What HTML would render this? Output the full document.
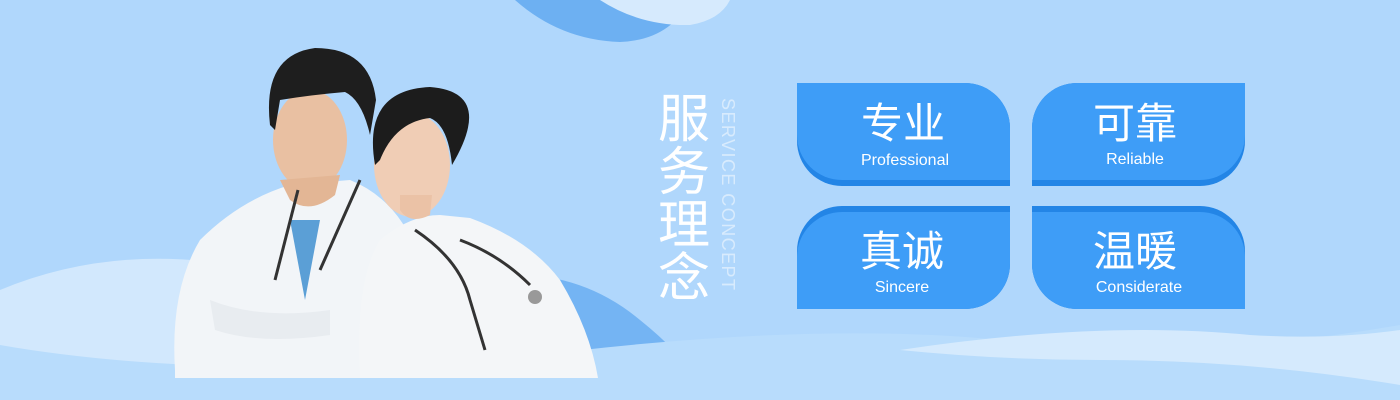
<!DOCTYPE html>
<html><head><meta charset="utf-8"><style>
body{margin:0;width:1400px;height:400px;overflow:hidden;background:#b0d7fc}
svg{display:block}
.cn{font-family:"Liberation Sans","Noto Sans CJK SC",sans-serif;fill:#fff}
.en{font-family:"Liberation Sans",sans-serif;fill:#fff}
</style></head><body>
<svg width="1400" height="400" viewBox="0 0 1400 400">
<rect width="1400" height="400" fill="#b0d7fc"/>
<g>
<path d="M515 0 Q560 40 620 42 Q670 40 690 0 Z" fill="#6db0f2"/>
<path d="M600 0 Q640 26 690 25 Q720 20 730 0 Z" fill="#d6eafd"/>
</g>
<g>
<path d="M0 290 Q120 240 260 270 Q420 300 520 290 L700 400 L0 400 Z" fill="#d2e8fd"/>
<path d="M500 275 Q580 270 640 320 Q690 360 710 400 L480 400 Z" fill="#74b4f3"/>
<path d="M0 345 Q200 380 500 360 Q800 320 1000 340 Q1200 360 1400 325 L1400 400 L0 400 Z" fill="#b8dcfc"/>
<path d="M900 350 Q1100 320 1250 335 Q1330 340 1400 330 L1400 385 Q1250 360 1100 360 Q1000 360 900 350 Z" fill="#d5eafd"/>
</g>
<g>
<path d="M175 370 Q170 290 200 240 Q240 200 290 185 L350 180 Q400 200 420 260 L420 378 L175 378 Z" fill="#f2f5f8"/>
<path d="M290 220 L305 300 L320 220 Z" fill="#5b9fd6"/>
<ellipse cx="310" cy="140" rx="37" ry="50" fill="#e9c0a2"/>
<path d="M280 180 L290 200 Q310 215 335 195 L340 175 Z" fill="#e3b695"/>
<path d="M270 125 Q262 55 315 48 Q370 48 376 100 L370 135 Q362 100 345 92 Q310 95 280 100 L275 130 Z" fill="#1e1e1e"/>
<path d="M298 190 L275 280" stroke="#333" stroke-width="3" fill="none"/>
<path d="M360 180 L320 270" stroke="#333" stroke-width="3" fill="none"/>
<path d="M210 300 Q260 320 330 310 L330 335 Q260 345 215 330 Z" fill="#e8ecf0"/>
</g>
<g>
<path d="M360 378 Q355 280 380 240 Q410 215 440 215 L470 218 Q530 240 560 280 Q590 330 598 378 Z" fill="#f4f6f8"/>
<ellipse cx="412" cy="165" rx="38" ry="52" fill="#f0cdb5"/>
<path d="M375 165 Q362 90 430 87 Q495 92 452 165 Q448 125 430 118 Q395 122 380 160 Z" fill="#1c1c1c"/>
<path d="M400 210 Q410 225 430 215 L432 195 L400 195 Z" fill="#ebc2a6"/>
<path d="M415 230 Q460 260 470 300 L485 350" stroke="#333" stroke-width="3" fill="none"/>
<path d="M460 240 Q500 255 530 285" stroke="#333" stroke-width="3" fill="none"/>
<circle cx="535" cy="297" r="7" fill="#999"/>
</g>
<g>
<text class="cn" x="684" y="137" font-size="52" text-anchor="middle">服</text>
<text class="cn" x="684" y="190" font-size="52" text-anchor="middle">务</text>
<text class="cn" x="684" y="243" font-size="52" text-anchor="middle">理</text>
<text class="cn" x="684" y="296" font-size="52" text-anchor="middle">念</text>
<text class="en" transform="translate(722,98) rotate(90)" font-size="18" style="fill:#d8ebfd" textLength="192">SERVICE CONCEPT</text>
</g>
<g>
<path d="M797 83 H965 A45 45 0 0 1 1010 128 V186 H842 A45 45 0 0 1 797 141 Z" fill="#2385e6"/>
<path d="M797 83 H965 A45 45 0 0 1 1010 128 V180 H842 A45 45 0 0 1 797 135 Z" fill="#3e9df7"/>
<text class="cn" x="903" y="138" font-size="42" text-anchor="middle">专业</text>
<text class="en" x="905" y="165" font-size="16" text-anchor="middle">Professional</text>
</g>
<g>
<path d="M1077 83 H1245 V141 A45 45 0 0 1 1200 186 H1032 V128 A45 45 0 0 1 1077 83 Z" fill="#2385e6"/>
<path d="M1077 83 H1245 V135 A45 45 0 0 1 1200 180 H1032 V128 A45 45 0 0 1 1077 83 Z" fill="#3e9df7"/>
<text class="cn" x="1135" y="138" font-size="42" text-anchor="middle">可靠</text>
<text class="en" x="1135" y="164" font-size="16" text-anchor="middle">Reliable</text>
</g>
<g>
<path d="M842 206 H1010 V264 A45 45 0 0 1 965 309 H797 V251 A45 45 0 0 1 842 206 Z" fill="#2385e6"/>
<path d="M842 212 H1010 V264 A45 45 0 0 1 965 309 H797 V257 A45 45 0 0 1 842 212 Z" fill="#3e9df7"/>
<text class="cn" x="902" y="266" font-size="42" text-anchor="middle">真诚</text>
<text class="en" x="902" y="292" font-size="16" text-anchor="middle">Sincere</text>
</g>
<g>
<path d="M1032 206 H1200 A45 45 0 0 1 1245 251 V309 H1077 A45 45 0 0 1 1032 264 Z" fill="#2385e6"/>
<path d="M1032 212 H1200 A45 45 0 0 1 1245 257 V309 H1077 A45 45 0 0 1 1032 264 Z" fill="#3e9df7"/>
<text class="cn" x="1135" y="266" font-size="42" text-anchor="middle">温暖</text>
<text class="en" x="1139" y="292" font-size="16" text-anchor="middle">Considerate</text>
</g>
</svg>
</body></html>
